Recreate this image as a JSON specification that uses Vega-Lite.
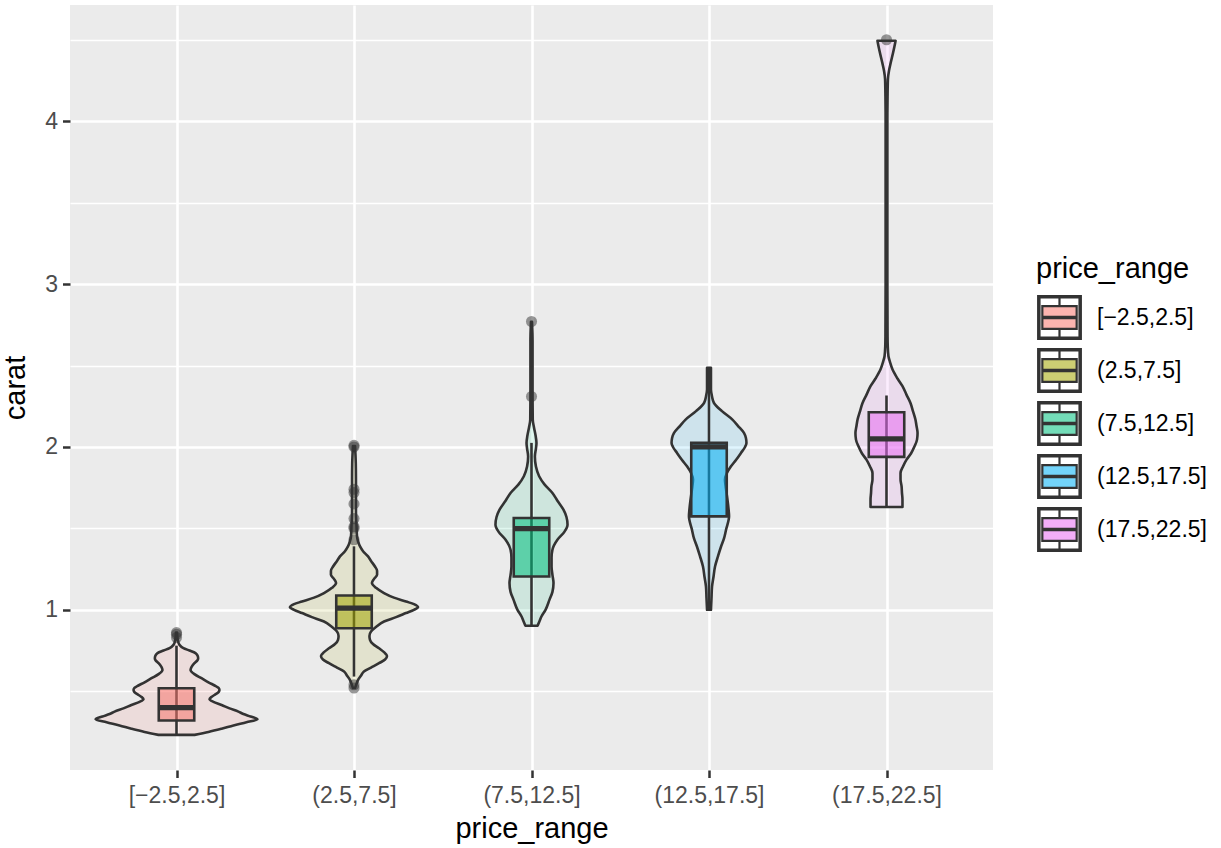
{
  "$schema": "https://vega.github.io/schema/vega-lite/v6.json",
  "width": 923,
  "height": 765,
  "autosize": {"type": "none"},
  "padding": {"left": 70, "top": 5, "right": 228, "bottom": 78},
  "background": "#FFFFFF",
  "config": {
    "view": {"fill": "#EBEBEB", "stroke": null},
    "font": "Liberation Sans",
    "axis": {"labelFont": "Liberation Sans", "titleFont": "Liberation Sans", "titleFontWeight": "normal", "domain": false},
    "legend": {"labelFont": "Liberation Sans", "titleFont": "Liberation Sans"}
  },
  "datasets": {
    "violin": [
      {"price_range": "[−2.5,2.5]", "carat": 0.232, "lo": 0.899, "hi": 1.101},
      {"price_range": "[−2.5,2.5]", "carat": 0.25, "lo": 0.820, "hi": 1.180},
      {"price_range": "[−2.5,2.5]", "carat": 0.27, "lo": 0.746, "hi": 1.254},
      {"price_range": "[−2.5,2.5]", "carat": 0.29, "lo": 0.679, "hi": 1.321},
      {"price_range": "[−2.5,2.5]", "carat": 0.31, "lo": 0.606, "hi": 1.394},
      {"price_range": "[−2.5,2.5]", "carat": 0.328, "lo": 0.544, "hi": 1.456},
      {"price_range": "[−2.5,2.5]", "carat": 0.345, "lo": 0.583, "hi": 1.417},
      {"price_range": "[−2.5,2.5]", "carat": 0.36, "lo": 0.623, "hi": 1.377},
      {"price_range": "[−2.5,2.5]", "carat": 0.375, "lo": 0.651, "hi": 1.349},
      {"price_range": "[−2.5,2.5]", "carat": 0.395, "lo": 0.701, "hi": 1.299},
      {"price_range": "[−2.5,2.5]", "carat": 0.416, "lo": 0.746, "hi": 1.254},
      {"price_range": "[−2.5,2.5]", "carat": 0.435, "lo": 0.792, "hi": 1.208},
      {"price_range": "[−2.5,2.5]", "carat": 0.451, "lo": 0.814, "hi": 1.186},
      {"price_range": "[−2.5,2.5]", "carat": 0.465, "lo": 0.803, "hi": 1.197},
      {"price_range": "[−2.5,2.5]", "carat": 0.477, "lo": 0.786, "hi": 1.214},
      {"price_range": "[−2.5,2.5]", "carat": 0.495, "lo": 0.763, "hi": 1.237},
      {"price_range": "[−2.5,2.5]", "carat": 0.508, "lo": 0.758, "hi": 1.242},
      {"price_range": "[−2.5,2.5]", "carat": 0.52, "lo": 0.763, "hi": 1.237},
      {"price_range": "[−2.5,2.5]", "carat": 0.529, "lo": 0.775, "hi": 1.225},
      {"price_range": "[−2.5,2.5]", "carat": 0.555, "lo": 0.820, "hi": 1.180},
      {"price_range": "[−2.5,2.5]", "carat": 0.58, "lo": 0.859, "hi": 1.141},
      {"price_range": "[−2.5,2.5]", "carat": 0.605, "lo": 0.899, "hi": 1.101},
      {"price_range": "[−2.5,2.5]", "carat": 0.631, "lo": 0.921, "hi": 1.079},
      {"price_range": "[−2.5,2.5]", "carat": 0.65, "lo": 0.915, "hi": 1.085},
      {"price_range": "[−2.5,2.5]", "carat": 0.672, "lo": 0.899, "hi": 1.101},
      {"price_range": "[−2.5,2.5]", "carat": 0.69, "lo": 0.882, "hi": 1.118},
      {"price_range": "[−2.5,2.5]", "carat": 0.703, "lo": 0.878, "hi": 1.122},
      {"price_range": "[−2.5,2.5]", "carat": 0.72, "lo": 0.882, "hi": 1.118},
      {"price_range": "[−2.5,2.5]", "carat": 0.734, "lo": 0.893, "hi": 1.107},
      {"price_range": "[−2.5,2.5]", "carat": 0.75, "lo": 0.927, "hi": 1.073},
      {"price_range": "[−2.5,2.5]", "carat": 0.765, "lo": 0.961, "hi": 1.039},
      {"price_range": "[−2.5,2.5]", "carat": 0.785, "lo": 0.983, "hi": 1.017},
      {"price_range": "[−2.5,2.5]", "carat": 0.81, "lo": 0.992, "hi": 1.008},
      {"price_range": "[−2.5,2.5]", "carat": 0.86, "lo": 0.997, "hi": 1.003},

      {"price_range": "(2.5,7.5]", "carat": 0.52, "lo": 1.994, "hi": 2.006},
      {"price_range": "(2.5,7.5]", "carat": 0.545, "lo": 1.986, "hi": 2.014},
      {"price_range": "(2.5,7.5]", "carat": 0.57, "lo": 1.977, "hi": 2.023},
      {"price_range": "(2.5,7.5]", "carat": 0.595, "lo": 1.961, "hi": 2.039},
      {"price_range": "(2.5,7.5]", "carat": 0.621, "lo": 1.944, "hi": 2.056},
      {"price_range": "(2.5,7.5]", "carat": 0.645, "lo": 1.904, "hi": 2.096},
      {"price_range": "(2.5,7.5]", "carat": 0.672, "lo": 1.859, "hi": 2.141},
      {"price_range": "(2.5,7.5]", "carat": 0.695, "lo": 1.825, "hi": 2.175},
      {"price_range": "(2.5,7.5]", "carat": 0.717, "lo": 1.814, "hi": 2.186},
      {"price_range": "(2.5,7.5]", "carat": 0.74, "lo": 1.831, "hi": 2.169},
      {"price_range": "(2.5,7.5]", "carat": 0.764, "lo": 1.859, "hi": 2.141},
      {"price_range": "(2.5,7.5]", "carat": 0.79, "lo": 1.893, "hi": 2.107},
      {"price_range": "(2.5,7.5]", "carat": 0.816, "lo": 1.910, "hi": 2.090},
      {"price_range": "(2.5,7.5]", "carat": 0.84, "lo": 1.913, "hi": 2.087},
      {"price_range": "(2.5,7.5]", "carat": 0.867, "lo": 1.904, "hi": 2.096},
      {"price_range": "(2.5,7.5]", "carat": 0.895, "lo": 1.876, "hi": 2.124},
      {"price_range": "(2.5,7.5]", "carat": 0.928, "lo": 1.831, "hi": 2.169},
      {"price_range": "(2.5,7.5]", "carat": 0.955, "lo": 1.763, "hi": 2.237},
      {"price_range": "(2.5,7.5]", "carat": 0.98, "lo": 1.707, "hi": 2.293},
      {"price_range": "(2.5,7.5]", "carat": 1.0, "lo": 1.662, "hi": 2.338},
      {"price_range": "(2.5,7.5]", "carat": 1.016, "lo": 1.639, "hi": 2.361},
      {"price_range": "(2.5,7.5]", "carat": 1.035, "lo": 1.662, "hi": 2.338},
      {"price_range": "(2.5,7.5]", "carat": 1.051, "lo": 1.707, "hi": 2.293},
      {"price_range": "(2.5,7.5]", "carat": 1.075, "lo": 1.775, "hi": 2.225},
      {"price_range": "(2.5,7.5]", "carat": 1.103, "lo": 1.831, "hi": 2.169},
      {"price_range": "(2.5,7.5]", "carat": 1.135, "lo": 1.876, "hi": 2.124},
      {"price_range": "(2.5,7.5]", "carat": 1.164, "lo": 1.899, "hi": 2.101},
      {"price_range": "(2.5,7.5]", "carat": 1.19, "lo": 1.887, "hi": 2.113},
      {"price_range": "(2.5,7.5]", "carat": 1.215, "lo": 1.870, "hi": 2.130},
      {"price_range": "(2.5,7.5]", "carat": 1.24, "lo": 1.870, "hi": 2.130},
      {"price_range": "(2.5,7.5]", "carat": 1.266, "lo": 1.882, "hi": 2.118},
      {"price_range": "(2.5,7.5]", "carat": 1.3, "lo": 1.904, "hi": 2.096},
      {"price_range": "(2.5,7.5]", "carat": 1.328, "lo": 1.921, "hi": 2.079},
      {"price_range": "(2.5,7.5]", "carat": 1.36, "lo": 1.949, "hi": 2.051},
      {"price_range": "(2.5,7.5]", "carat": 1.389, "lo": 1.966, "hi": 2.034},
      {"price_range": "(2.5,7.5]", "carat": 1.42, "lo": 1.977, "hi": 2.023},
      {"price_range": "(2.5,7.5]", "carat": 1.451, "lo": 1.983, "hi": 2.017},
      {"price_range": "(2.5,7.5]", "carat": 1.52, "lo": 1.986, "hi": 2.014},
      {"price_range": "(2.5,7.5]", "carat": 1.6, "lo": 1.989, "hi": 2.011},
      {"price_range": "(2.5,7.5]", "carat": 1.7, "lo": 1.989, "hi": 2.011},
      {"price_range": "(2.5,7.5]", "carat": 1.8, "lo": 1.989, "hi": 2.011},
      {"price_range": "(2.5,7.5]", "carat": 1.9, "lo": 1.990, "hi": 2.010},
      {"price_range": "(2.5,7.5]", "carat": 2.005, "lo": 1.994, "hi": 2.006},

      {"price_range": "(7.5,12.5]", "carat": 0.902, "lo": 2.966, "hi": 3.034},
      {"price_range": "(7.5,12.5]", "carat": 0.93, "lo": 2.955, "hi": 3.045},
      {"price_range": "(7.5,12.5]", "carat": 0.959, "lo": 2.944, "hi": 3.056},
      {"price_range": "(7.5,12.5]", "carat": 1.0, "lo": 2.921, "hi": 3.079},
      {"price_range": "(7.5,12.5]", "carat": 1.061, "lo": 2.899, "hi": 3.101},
      {"price_range": "(7.5,12.5]", "carat": 1.11, "lo": 2.882, "hi": 3.118},
      {"price_range": "(7.5,12.5]", "carat": 1.164, "lo": 2.876, "hi": 3.124},
      {"price_range": "(7.5,12.5]", "carat": 1.215, "lo": 2.882, "hi": 3.118},
      {"price_range": "(7.5,12.5]", "carat": 1.266, "lo": 2.887, "hi": 3.113},
      {"price_range": "(7.5,12.5]", "carat": 1.32, "lo": 2.887, "hi": 3.113},
      {"price_range": "(7.5,12.5]", "carat": 1.369, "lo": 2.882, "hi": 3.118},
      {"price_range": "(7.5,12.5]", "carat": 1.43, "lo": 2.854, "hi": 3.146},
      {"price_range": "(7.5,12.5]", "carat": 1.48, "lo": 2.814, "hi": 3.186},
      {"price_range": "(7.5,12.5]", "carat": 1.523, "lo": 2.797, "hi": 3.203},
      {"price_range": "(7.5,12.5]", "carat": 1.57, "lo": 2.803, "hi": 3.197},
      {"price_range": "(7.5,12.5]", "carat": 1.615, "lo": 2.820, "hi": 3.180},
      {"price_range": "(7.5,12.5]", "carat": 1.67, "lo": 2.854, "hi": 3.146},
      {"price_range": "(7.5,12.5]", "carat": 1.717, "lo": 2.882, "hi": 3.118},
      {"price_range": "(7.5,12.5]", "carat": 1.77, "lo": 2.927, "hi": 3.073},
      {"price_range": "(7.5,12.5]", "carat": 1.82, "lo": 2.957, "hi": 3.043},
      {"price_range": "(7.5,12.5]", "carat": 1.88, "lo": 2.975, "hi": 3.025},
      {"price_range": "(7.5,12.5]", "carat": 1.942, "lo": 2.981, "hi": 3.019},
      {"price_range": "(7.5,12.5]", "carat": 1.99, "lo": 2.975, "hi": 3.025},
      {"price_range": "(7.5,12.5]", "carat": 2.025, "lo": 2.972, "hi": 3.028},
      {"price_range": "(7.5,12.5]", "carat": 2.07, "lo": 2.977, "hi": 3.023},
      {"price_range": "(7.5,12.5]", "carat": 2.12, "lo": 2.986, "hi": 3.014},
      {"price_range": "(7.5,12.5]", "carat": 2.168, "lo": 2.993, "hi": 3.007},
      {"price_range": "(7.5,12.5]", "carat": 2.3, "lo": 2.994, "hi": 3.006},
      {"price_range": "(7.5,12.5]", "carat": 2.5, "lo": 2.994, "hi": 3.006},
      {"price_range": "(7.5,12.5]", "carat": 2.65, "lo": 2.994, "hi": 3.006},
      {"price_range": "(7.5,12.5]", "carat": 2.768, "lo": 2.997, "hi": 3.003},

      {"price_range": "(12.5,17.5]", "carat": 1.0, "lo": 3.989, "hi": 4.011},
      {"price_range": "(12.5,17.5]", "carat": 1.07, "lo": 3.986, "hi": 4.014},
      {"price_range": "(12.5,17.5]", "carat": 1.143, "lo": 3.983, "hi": 4.017},
      {"price_range": "(12.5,17.5]", "carat": 1.2, "lo": 3.975, "hi": 4.025},
      {"price_range": "(12.5,17.5]", "carat": 1.266, "lo": 3.966, "hi": 4.034},
      {"price_range": "(12.5,17.5]", "carat": 1.33, "lo": 3.949, "hi": 4.051},
      {"price_range": "(12.5,17.5]", "carat": 1.389, "lo": 3.932, "hi": 4.068},
      {"price_range": "(12.5,17.5]", "carat": 1.44, "lo": 3.915, "hi": 4.085},
      {"price_range": "(12.5,17.5]", "carat": 1.492, "lo": 3.904, "hi": 4.096},
      {"price_range": "(12.5,17.5]", "carat": 1.574, "lo": 3.887, "hi": 4.113},
      {"price_range": "(12.5,17.5]", "carat": 1.62, "lo": 3.890, "hi": 4.110},
      {"price_range": "(12.5,17.5]", "carat": 1.676, "lo": 3.896, "hi": 4.104},
      {"price_range": "(12.5,17.5]", "carat": 1.74, "lo": 3.904, "hi": 4.096},
      {"price_range": "(12.5,17.5]", "carat": 1.8, "lo": 3.910, "hi": 4.090},
      {"price_range": "(12.5,17.5]", "carat": 1.84, "lo": 3.899, "hi": 4.101},
      {"price_range": "(12.5,17.5]", "carat": 1.881, "lo": 3.876, "hi": 4.124},
      {"price_range": "(12.5,17.5]", "carat": 1.92, "lo": 3.848, "hi": 4.152},
      {"price_range": "(12.5,17.5]", "carat": 1.963, "lo": 3.820, "hi": 4.180},
      {"price_range": "(12.5,17.5]", "carat": 2.0, "lo": 3.797, "hi": 4.203},
      {"price_range": "(12.5,17.5]", "carat": 2.025, "lo": 3.789, "hi": 4.211},
      {"price_range": "(12.5,17.5]", "carat": 2.055, "lo": 3.792, "hi": 4.208},
      {"price_range": "(12.5,17.5]", "carat": 2.086, "lo": 3.803, "hi": 4.197},
      {"price_range": "(12.5,17.5]", "carat": 2.13, "lo": 3.837, "hi": 4.163},
      {"price_range": "(12.5,17.5]", "carat": 2.168, "lo": 3.868, "hi": 4.132},
      {"price_range": "(12.5,17.5]", "carat": 2.22, "lo": 3.927, "hi": 4.073},
      {"price_range": "(12.5,17.5]", "carat": 2.27, "lo": 3.972, "hi": 4.028},
      {"price_range": "(12.5,17.5]", "carat": 2.31, "lo": 3.983, "hi": 4.017},
      {"price_range": "(12.5,17.5]", "carat": 2.352, "lo": 3.989, "hi": 4.011},
      {"price_range": "(12.5,17.5]", "carat": 2.42, "lo": 3.989, "hi": 4.011},
      {"price_range": "(12.5,17.5]", "carat": 2.486, "lo": 3.989, "hi": 4.011},

      {"price_range": "(17.5,22.5]", "carat": 1.631, "lo": 4.910, "hi": 5.090},
      {"price_range": "(17.5,22.5]", "carat": 1.676, "lo": 4.910, "hi": 5.090},
      {"price_range": "(17.5,22.5]", "carat": 1.72, "lo": 4.913, "hi": 5.087},
      {"price_range": "(17.5,22.5]", "carat": 1.758, "lo": 4.915, "hi": 5.085},
      {"price_range": "(17.5,22.5]", "carat": 1.8, "lo": 4.921, "hi": 5.079},
      {"price_range": "(17.5,22.5]", "carat": 1.84, "lo": 4.921, "hi": 5.079},
      {"price_range": "(17.5,22.5]", "carat": 1.88, "lo": 4.907, "hi": 5.093},
      {"price_range": "(17.5,22.5]", "carat": 1.922, "lo": 4.887, "hi": 5.113},
      {"price_range": "(17.5,22.5]", "carat": 1.96, "lo": 4.862, "hi": 5.138},
      {"price_range": "(17.5,22.5]", "carat": 2.004, "lo": 4.842, "hi": 5.158},
      {"price_range": "(17.5,22.5]", "carat": 2.045, "lo": 4.828, "hi": 5.172},
      {"price_range": "(17.5,22.5]", "carat": 2.086, "lo": 4.825, "hi": 5.175},
      {"price_range": "(17.5,22.5]", "carat": 2.13, "lo": 4.831, "hi": 5.169},
      {"price_range": "(17.5,22.5]", "carat": 2.168, "lo": 4.837, "hi": 5.163},
      {"price_range": "(17.5,22.5]", "carat": 2.22, "lo": 4.851, "hi": 5.149},
      {"price_range": "(17.5,22.5]", "carat": 2.27, "lo": 4.865, "hi": 5.135},
      {"price_range": "(17.5,22.5]", "carat": 2.32, "lo": 4.887, "hi": 5.113},
      {"price_range": "(17.5,22.5]", "carat": 2.373, "lo": 4.910, "hi": 5.090},
      {"price_range": "(17.5,22.5]", "carat": 2.42, "lo": 4.938, "hi": 5.062},
      {"price_range": "(17.5,22.5]", "carat": 2.475, "lo": 4.966, "hi": 5.034},
      {"price_range": "(17.5,22.5]", "carat": 2.52, "lo": 4.980, "hi": 5.020},
      {"price_range": "(17.5,22.5]", "carat": 2.557, "lo": 4.989, "hi": 5.011},
      {"price_range": "(17.5,22.5]", "carat": 2.62, "lo": 4.993, "hi": 5.007},
      {"price_range": "(17.5,22.5]", "carat": 2.68, "lo": 4.994, "hi": 5.006},
      {"price_range": "(17.5,22.5]", "carat": 3.0, "lo": 4.995, "hi": 5.005},
      {"price_range": "(17.5,22.5]", "carat": 3.5, "lo": 4.995, "hi": 5.005},
      {"price_range": "(17.5,22.5]", "carat": 4.0, "lo": 4.995, "hi": 5.005},
      {"price_range": "(17.5,22.5]", "carat": 4.15, "lo": 4.994, "hi": 5.006},
      {"price_range": "(17.5,22.5]", "carat": 4.258, "lo": 4.992, "hi": 5.008},
      {"price_range": "(17.5,22.5]", "carat": 4.31, "lo": 4.986, "hi": 5.014},
      {"price_range": "(17.5,22.5]", "carat": 4.36, "lo": 4.976, "hi": 5.024},
      {"price_range": "(17.5,22.5]", "carat": 4.42, "lo": 4.963, "hi": 5.037},
      {"price_range": "(17.5,22.5]", "carat": 4.46, "lo": 4.955, "hi": 5.045},
      {"price_range": "(17.5,22.5]", "carat": 4.494, "lo": 4.949, "hi": 5.051}
    ],
    "box": [
      {"price_range": "[−2.5,2.5]", "wlo": 0.232, "q1": 0.32, "med": 0.40, "q3": 0.518, "whi": 0.78},
      {"price_range": "(2.5,7.5]", "wlo": 0.59, "q1": 0.887, "med": 1.01, "q3": 1.088, "whi": 1.39},
      {"price_range": "(7.5,12.5]", "wlo": 0.902, "q1": 1.205, "med": 1.498, "q3": 1.564, "whi": 2.025},
      {"price_range": "(12.5,17.5]", "wlo": 1.0, "q1": 1.574, "med": 2.0, "q3": 2.025, "whi": 2.486},
      {"price_range": "(17.5,22.5]", "wlo": 1.631, "q1": 1.939, "med": 2.049, "q3": 2.213, "whi": 2.316}
    ],
    "outliers": [
      {"price_range": "[−2.5,2.5]", "carat": 0.83},
      {"price_range": "[−2.5,2.5]", "carat": 0.85},
      {"price_range": "[−2.5,2.5]", "carat": 0.86},
      {"price_range": "(2.5,7.5]", "carat": 0.52},
      {"price_range": "(2.5,7.5]", "carat": 0.54},
      {"price_range": "(2.5,7.5]", "carat": 1.43},
      {"price_range": "(2.5,7.5]", "carat": 1.5},
      {"price_range": "(2.5,7.5]", "carat": 1.51},
      {"price_range": "(2.5,7.5]", "carat": 1.56},
      {"price_range": "(2.5,7.5]", "carat": 1.65},
      {"price_range": "(2.5,7.5]", "carat": 1.72},
      {"price_range": "(2.5,7.5]", "carat": 1.74},
      {"price_range": "(2.5,7.5]", "carat": 2.0},
      {"price_range": "(2.5,7.5]", "carat": 2.01},
      {"price_range": "(7.5,12.5]", "carat": 2.31},
      {"price_range": "(7.5,12.5]", "carat": 2.77},
      {"price_range": "(17.5,22.5]", "carat": 4.5}
    ]
  },
  "layer": [
    {
      "data": {"name": "violin"},
      "mark": {"type": "area", "orient": "horizontal", "interpolate": "monotone", "fillOpacity": 0.12, "stroke": "#333333", "strokeWidth": 2.6, "strokeJoin": "round"},
      "encoding": {
        "y": {"field": "carat", "type": "quantitative", "title": "carat",
          "scale": {"domain": [0.0165, 4.7135], "nice": false, "zero": false},
          "axis": {"orient": "left", "values": [0.5, 1.5, 2.5, 3.5, 4.5], "grid": true, "gridColor": "#FFFFFF", "gridWidth": 1.3, "labels": false, "ticks": false, "domain": false, "title": null}},
        "x": {"field": "lo", "type": "quantitative", "stack": null, "scale": {"domain": [0.4, 5.6], "nice": false, "zero": false}, "axis": null},
        "x2": {"field": "hi"},
        "color": {"field": "price_range", "type": "nominal",
          "scale": {"domain": ["[−2.5,2.5]", "(2.5,7.5]", "(7.5,12.5]", "(12.5,17.5]", "(17.5,22.5]"], "range": ["#F8766D", "#A3A500", "#00BF7D", "#00B0F6", "#E76BF3"]},
          "legend": {
            "orient": "none", "legendX": 966, "legendY": 250, "padding": 0,
            "title": "price_range", "titleFontSize": 29, "titleFontWeight": "normal", "titleColor": "#000000", "titlePadding": 10,
            "labelFontSize": 23, "labelColor": "#000000", "labelOffset": 14,
            "symbolType": "M-0.97,-0.97L0.97,-0.97L0.97,0.97L-0.97,0.97ZM-0.91,-0.91L-0.91,0.91L0.91,0.91L0.91,-0.91ZM-0.78,-0.52L0.78,-0.52L0.78,0.52L-0.78,0.52ZM-0.78,-0.03L0.78,-0.03L0.78,0.03L-0.78,0.03ZM0,-0.91L0,-0.52M0,0.52L0,0.91",
            "symbolSize": 1936, "symbolStrokeColor": "#333333", "symbolStrokeWidth": 2.2, "symbolOpacity": 1, "rowPadding": 0,
            "encode": {"symbols": {"update": {"fillOpacity": {"value": 0.55}, "stroke": {"value": "#333333"}, "strokeWidth": {"value": 2.2}, "opacity": {"value": 1}}}}
          }}
      }
    },
    {
      "layer": [
        {
          "data": {"name": "box"},
          "mark": {"type": "rule", "stroke": "#333333", "strokeWidth": 2.6},
          "encoding": {
            "x": {"field": "price_range", "type": "nominal", "title": "price_range",
              "scale": {"type": "point", "padding": 0.6, "domain": ["[−2.5,2.5]", "(2.5,7.5]", "(7.5,12.5]", "(12.5,17.5]", "(17.5,22.5]"]},
              "axis": {"labelAngle": 0, "labelFontSize": 23, "labelColor": "#4D4D4D", "tickColor": "#333333", "tickSize": 7.5, "tickWidth": 2.5, "labelPadding": 7, "grid": true, "gridColor": "#FFFFFF", "gridWidth": 2.6, "titleFontSize": 29, "titleColor": "#000000", "titlePadding": 7, "domain": false}},
            "y": {"field": "wlo", "type": "quantitative", "title": "carat",
              "axis": {"orient": "left", "values": [1, 2, 3, 4], "format": "d", "grid": true, "gridColor": "#FFFFFF", "gridWidth": 2.6, "tickColor": "#333333", "tickSize": 7.5, "tickWidth": 2.5, "labelFontSize": 23, "labelColor": "#4D4D4D", "labelPadding": 5, "domain": false, "titleFontSize": 29, "titleColor": "#000000", "titlePadding": 14}},
            "y2": {"field": "whi"}
          }
        },
        {
          "data": {"name": "box"},
          "mark": {"type": "bar", "width": 35.5, "fillOpacity": 0.55, "stroke": "#333333", "strokeWidth": 2.6},
          "encoding": {
            "x": {"field": "price_range", "type": "nominal", "title": "price_range"},
            "y": {"field": "q1", "type": "quantitative", "title": "carat"},
            "y2": {"field": "q3"},
            "color": {"field": "price_range", "type": "nominal"}
          }
        },
        {
          "data": {"name": "box"},
          "mark": {"type": "tick", "orient": "horizontal", "size": 36, "thickness": 5.2, "color": "#333333", "opacity": 1},
          "encoding": {
            "x": {"field": "price_range", "type": "nominal", "title": "price_range"},
            "y": {"field": "med", "type": "quantitative", "title": "carat"}
          }
        },
        {
          "data": {"name": "outliers"},
          "mark": {"type": "circle", "size": 123, "color": "#333333", "opacity": 0.5},
          "encoding": {
            "x": {"field": "price_range", "type": "nominal", "title": "price_range"},
            "y": {"field": "carat", "type": "quantitative", "title": "carat"}
          }
        }
      ]
    }
  ],
  "resolve": {"scale": {"x": "independent"}, "axis": {"y": "independent"}}
}
